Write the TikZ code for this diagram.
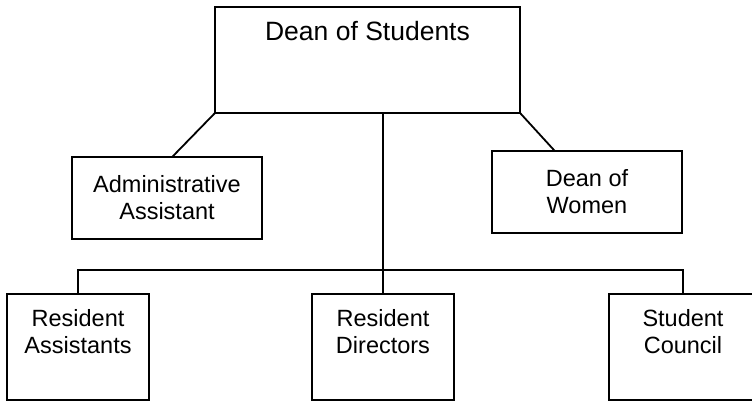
\documentclass[tikz,border=0pt]{standalone}
\usepackage{fontspec}
\setmainfont{Liberation Sans}
\usetikzlibrary{positioning, calc}
\tikzset{
  every picture/.style={line width=1.8pt},
  box/.style={draw, align=center, inner sep=0pt, font=\fontsize{23.5}{27}\selectfont},
  tall/.style={box, minimum width=142pt, minimum height=106pt},
  wide/.style={box, minimum width=190pt, minimum height=82pt},
  link/.style={draw, line cap=rect},
}

\begin{document}
\begin{tikzpicture}[x=1pt, y=-1pt,
  head/.style={box, minimum width=305pt, minimum height=106pt},
  lbl/.style={anchor=north, yshift=-15pt, align=center, inner sep=0pt, font=\fontsize{23.5}{27}\selectfont}]
  \useasboundingbox (0,0) rectangle (752,401);
  \node[head, label={[lbl, yshift=1pt, font=\fontsize{26.5}{30}\selectfont]north:Dean of Students}] (dos) at (367.5,60) {};
  \node[wide] (aa) at (167,198) {Administrative\\Assistant};
  \node[wide] (dw) at (587,192) {Dean of\\Women};
  \node[tall, label={[lbl]north:Resident\\Assistants}] (ra) at (78,347) {};
  \node[tall, label={[lbl]north:Resident\\Directors}] (rd) at (383,347) {};
  \node[tall, minimum width=148pt, label={[lbl]north:Student\\Council}] (sc) at (683,347) {};
  \coordinate (bar) at (383,270);
  \draw[link] (dos.south west) -- ([xshift=6pt]aa.north);
  \draw[link] (dos.south east) -- ([xshift=-33pt]dw.north);
  \draw[link] (dos.south -| rd.north) -- (rd.north);
  \draw[link] (ra.north) -- (ra.north |- bar) -- (sc.north |- bar) -- (sc.north);
\end{tikzpicture}
\end{document}
